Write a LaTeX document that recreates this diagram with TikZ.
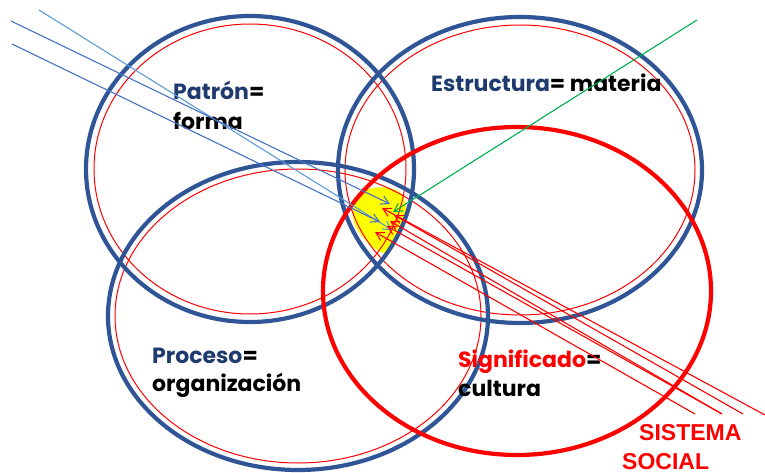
\documentclass[tikz,border=0pt]{standalone}
\usepackage{fontspec}
\setmainfont{Poppins}
\newfontfamily\arialf{Liberation Sans}
\usetikzlibrary{arrows.meta}
\definecolor{ringblue}{HTML}{2F5597}
\definecolor{navy}{HTML}{1F3A6E}
\definecolor{lineblue}{HTML}{4472C4}
\definecolor{lightblue}{HTML}{5B9BD5}
\definecolor{grn}{HTML}{00B050}
\definecolor{rd}{HTML}{FF0000}
\definecolor{yel}{HTML}{FFFF00}
\tikzset{
  ring/.style={draw=ringblue,line width=4.2pt},
  innerring/.style={draw=rd,line width=1pt},
  redring/.style={draw=rd,line width=4.2pt},
  lbl/.style={anchor=base west,inner sep=0pt,font=\bfseries\fontsize{22}{26}\selectfont},
  bigred/.style={anchor=base west,inner sep=0pt,text=rd,font=\arialf\bfseries\fontsize{23}{27}\selectfont},
  ray/.style={line width=1.1pt,-{Straight Barb[length=8pt,width=9pt,line width=1.1pt]}},
}
\begin{document}
\begin{tikzpicture}[x=1pt,y=-1pt]
\useasboundingbox (0,0) rectangle (765,473);
% highlighted intersection
\fill[yel] plot[smooth cycle,tension=0.7] coordinates {(366,190) (398,191) (406,212) (400,233) (386,253) (362,236) (353,212)};
% rings
\coordinate (c1) at (250,169);
\coordinate (c2) at (520,170);
\coordinate (c3) at (298,316);
\coordinate (c4) at (517,291);
\draw[innerring] (c1) ellipse [x radius=156pt,y radius=145pt];
\draw[innerring] (c2) ellipse [x radius=175pt,y radius=145pt];
\draw[innerring] (c3) ellipse [x radius=183pt,y radius=147pt];
\draw[ring] (c1) ellipse [x radius=164pt,y radius=153pt];
\draw[ring] (c2) ellipse [x radius=182pt,y radius=153pt];
\draw[ring] (c3) ellipse [x radius=190pt,y radius=154pt];
\draw[redring] (c4) ellipse [x radius=194pt,y radius=164pt];
% labels
\node[lbl] (pat) at (173,100) {\textcolor{navy}{Patrón}=};
\node[lbl] (for) at (173,130) {forma};
\node[lbl] (est) at (431,92) {\textcolor{navy}{Estructura}= materia};
\node[lbl] (pro) at (152,363) {\textcolor{navy}{Proceso}=};
\node[lbl] (org) at (152,391) {organización};
\node[lbl] (sig) at (458,367) {\textcolor{rd}{Significado}=};
\node[lbl] (cul) at (458,396) {cultura};
\node[bigred] (sis) at (639,440) {SISTEMA};
\node[bigred] (soc) at (622,469) {SOCIAL};
% ray ends
\coordinate (b1s) at (39,10);   \coordinate (b1e) at (392,230);
\coordinate (b2s) at (11,21);   \coordinate (b2e) at (390,204);
\coordinate (b3s) at (12,44);   \coordinate (b3e) at (380,222);
\coordinate (gs) at (697,20);   \coordinate (ge) at (393,212);
\coordinate (r1s) at (765,415); \coordinate (r1e) at (382,208);
\coordinate (r2s) at (743,414); \coordinate (r2e) at (394,215);
\coordinate (r3s) at (722,414); \coordinate (r3e) at (390,221);
\coordinate (r4s) at (722,414); \coordinate (r4e) at (387,226);
\coordinate (r5s) at (695,414); \coordinate (r5e) at (375,232);
% rays
\draw[ray,draw=lightblue] (b1s) -- (b1e);
\draw[ray,draw=lineblue] (b2s) -- (b2e);
\draw[ray,draw=lineblue] (b3s) -- (b3e);
\draw[ray,draw=grn] (gs) -- (ge);
\foreach \i in {1,...,5} {\draw[ray,draw=rd] (r\i s) -- (r\i e);}
\end{tikzpicture}
\end{document}
